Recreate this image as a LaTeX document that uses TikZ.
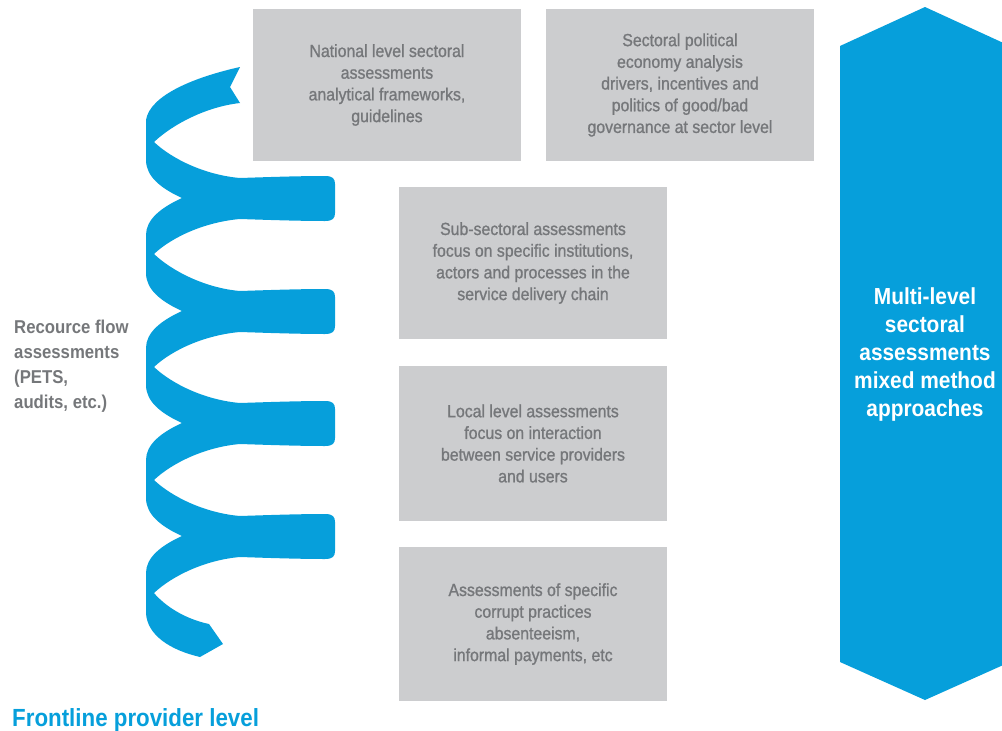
\documentclass[tikz,border=0pt]{standalone}
\usepackage{fontspec}
\setmainfont{Liberation Sans}[FakeStretch=0.9]
\newfontfamily\boxfont{Liberation Sans}[FakeStretch=0.9, FakeBold=1.0]
\definecolor{boxgray}{RGB}{204,205,207}
\definecolor{txtgray}{RGB}{117,119,122}
\definecolor{cblue}{RGB}{6,159,219}
\begin{document}
\begin{tikzpicture}[x=1pt,y=-1pt,
  gbox/.style={fill=boxgray, minimum width=268pt, minimum height=152pt, inner sep=0pt,
    align=center, text=txtgray, font=\boxfont\fontsize{17.6}{21.7}\selectfont},
  sidelabel/.style={align=left, text=txtgray, inner sep=0pt, font=\bfseries\fontsize{18.6}{25}\selectfont},
  arrowlabel/.style={align=center, text=white, inner sep=0pt, font=\bfseries\fontsize{23.2}{28}\selectfont},
  baselabel/.style={anchor=west, text=cblue, inner sep=0pt, font=\bfseries\fontsize{24.8}{30}\selectfont}]
\useasboundingbox (0,0) rectangle (1002,731);

% spiral ribbon
\fill[cblue] (240,67) .. controls (195,77) and (150,95) .. (146,120)
 -- (146,160) .. controls (146,176) and (160,188) .. (182,198)
 .. controls (160,208) and (146,220) .. (146,235)
 -- (146,273) .. controls (146,289) and (160,301) .. (182,311)
 .. controls (160,321) and (146,333) .. (146,348)
 -- (146,385) .. controls (146,401) and (160,413) .. (182,423)
 .. controls (160,433) and (146,445) .. (146,460)
 -- (146,498) .. controls (146,514) and (160,526) .. (182,536)
 .. controls (160,546) and (146,558) .. (146,573)
 -- (146,613) .. controls (147,635) and (170,650) .. (200,657)
 -- (223,644) -- (209,624)
 .. controls (185,619) and (165,606) .. (154,593)
 .. controls (172,576) and (205,560) .. (240,557)
 .. controls (270,558) and (300,559) .. (325,559)
 .. controls (333,559) and (335,556) .. (335,551) -- (335,522)
 .. controls (335,517) and (333,514) .. (325,514)
 .. controls (300,514) and (270,515) .. (240,516)
 .. controls (205,513) and (172,497) .. (154,480)
 .. controls (172,463) and (205,447) .. (240,444)
 .. controls (270,445) and (300,446) .. (325,446)
 .. controls (333,446) and (335,443) .. (335,438) -- (335,409)
 .. controls (335,404) and (333,401) .. (325,401)
 .. controls (300,401) and (270,402) .. (240,403)
 .. controls (205,400) and (172,384) .. (154,367)
 .. controls (172,350) and (205,335) .. (240,332)
 .. controls (270,333) and (300,334) .. (325,334)
 .. controls (333,334) and (335,331) .. (335,326) -- (335,297)
 .. controls (335,292) and (333,289) .. (325,289)
 .. controls (300,289) and (270,290) .. (240,291)
 .. controls (205,288) and (172,271) .. (154,254)
 .. controls (172,237) and (205,222) .. (240,219)
 .. controls (270,220) and (300,221) .. (325,221)
 .. controls (333,221) and (335,218) .. (335,213) -- (335,184)
 .. controls (335,179) and (333,176) .. (325,176)
 .. controls (300,176) and (270,177) .. (240,178)
 .. controls (205,175) and (172,159) .. (154,142)
 .. controls (172,125) and (205,107) .. (240,103)
 -- (230,87) -- cycle;

% boxes
\node[gbox] (nat) at (387,85) {National level sectoral\\assessments\\analytical frameworks,\\guidelines};
\node[gbox] (pol) at (680,85) {Sectoral political\\economy analysis\\drivers, incentives and\\politics of good/bad\\governance at sector level};
\node[gbox] (sub) at (533,263) {Sub-sectoral assessments\\focus on specific institutions,\\actors and processes in the\\service delivery chain};
\node[gbox, minimum height=155pt] (loc) at (533,443.5) {Local level assessments\\focus on interaction\\between service providers\\and users};
\node[gbox, minimum height=154pt] (cor) at (533,624) {Assessments of specific\\corrupt practices\\absenteeism,\\informal payments, etc};

% multi-level arrow
\fill[cblue] (840,46) -- (925,7) -- (1010,46) -- (1010,662) -- (925,700) -- (840,662) -- cycle;
\node[arrowlabel] (multi) at (925,354) {Multi-level\\sectoral\\assessments\\mixed method\\approaches};

% side labels
\node[sidelabel, anchor=west] (res) at (14,366) {Recource flow\\assessments\\(PETS,\\audits, etc.)};
\node[baselabel] (front) at (12,720) {Frontline provider level};
\end{tikzpicture}
\end{document}
